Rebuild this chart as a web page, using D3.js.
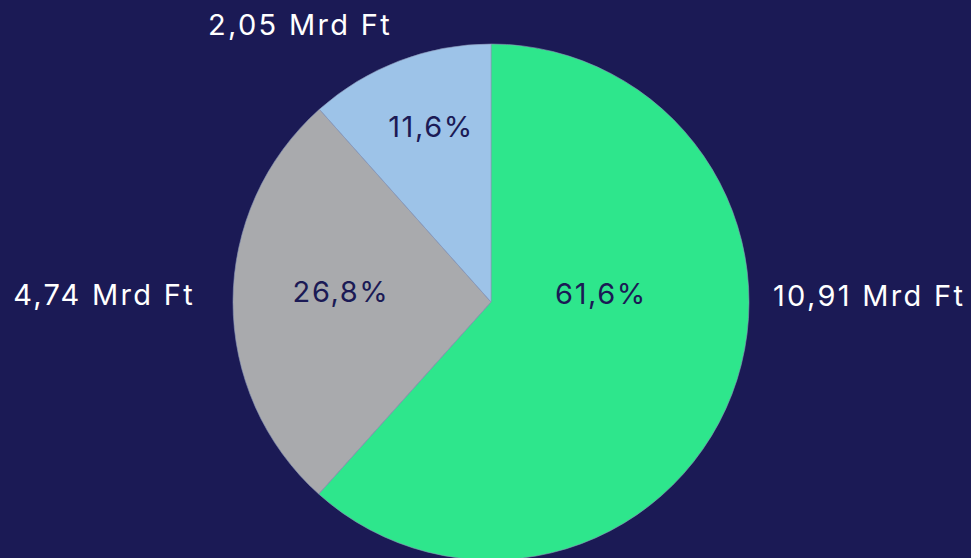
<!DOCTYPE html>
<html><head><meta charset="utf-8">
<script src="https://cdn.jsdelivr.net/npm/d3@7/dist/d3.min.js"></script>
<style>
html,body{margin:0;padding:0;background:#1b1a55;}
svg{display:block;}
text{font-family:Inter,"Open Sans",sans-serif;}
</style></head>
<body>
<svg id="c" width="971" height="558"></svg>
<script>
const categories = ["A", "B", "C"];
const values = [10.91, 4.74, 2.05];
const valueLabels = ["10,91 Mrd Ft", "4,74 Mrd Ft", "2,05 Mrd Ft"];
const percentLabels = ["61,6%", "26,8%", "11,6%"];
const colors = ["#2ee68c", "#a9aaad", "#9dc3e8"];

const W = 971, H = 558;
const cx = 491, cy = 302, R = 258;
const svg = d3.select("#c");
svg.append("rect").attr("width", W).attr("height", H).attr("fill", "#1b1a55");
const g = svg.append("g").attr("transform", `translate(${cx},${cy})`);

const pie = d3.pie().sort(null).value(d => d)(values);
const arc = d3.arc().innerRadius(0).outerRadius(R);
g.selectAll("path").data(pie).join("path")
  .attr("d", arc)
  .attr("fill", (d, i) => colors[i])
  .attr("stroke", "#8c99b8").attr("stroke-width", 0.6);

// label layout (offsets relative to centre)
const pctPos = [[110, 2], [-150, 0], [-60, -165]];
const outPos = [[282, 4, "start"], [-296, 3, "end"], [-191, -267, "middle"]];

const fs = 29;
g.selectAll("text.pct").data(pie).join("text").attr("class", "pct")
  .attr("x", (d, i) => pctPos[i][0]).attr("y", (d, i) => pctPos[i][1])
  .attr("text-anchor", "middle").attr("fill", "#1b1a55")
  .attr("font-size", fs).attr("letter-spacing", 1.6).text((d, i) => percentLabels[i]);

g.selectAll("text.out").data(pie).join("text").attr("class", "out")
  .attr("x", (d, i) => outPos[i][0]).attr("y", (d, i) => outPos[i][1])
  .attr("text-anchor", (d, i) => outPos[i][2]).attr("fill", "#ffffff")
  .attr("font-size", fs).attr("letter-spacing", 2.3).text((d, i) => valueLabels[i]);
</script>
</body></html>
